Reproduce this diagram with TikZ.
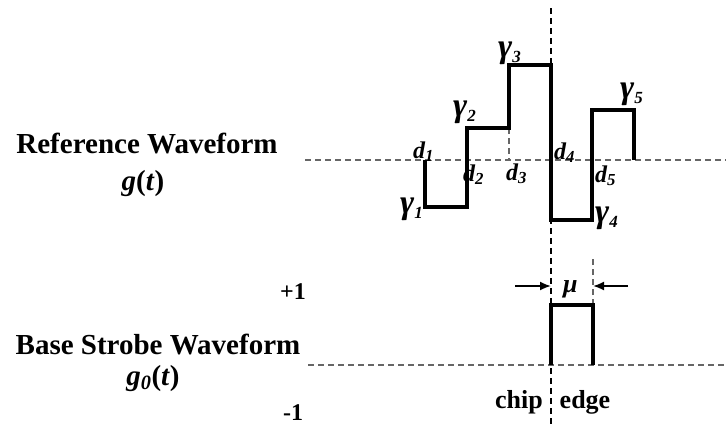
\documentclass[tikz,border=0pt]{standalone}
\usepackage{fontspec}
\setmainfont{Liberation Serif}
\usetikzlibrary{arrows.meta}

\newcommand{\lab}[2]{\textit{#1}\textsubscript{\textit{#2}}}
\newcommand{\glab}[1]{{\fontsize{34}{34}\selectfont γ}\raisebox{-5pt}{\fontsize{17}{17}\selectfont\textit{#1}}}

\begin{document}
\begin{tikzpicture}[
  x=1pt, y=-1pt,
  every node/.style={inner sep=0pt, anchor=base west},
  title/.style={font=\fontsize{29}{32}\selectfont\bfseries, anchor=base},
  level/.style={font=\fontsize{24}{26}\selectfont\bfseries},
  tag/.style={font=\fontsize{24}{26}\selectfont\bfseries\itshape},
  axis/.style={draw=black!60, dash pattern=on 6pt off 4pt, line width=1.4pt},
  edgeline/.style={draw=black, dash pattern=on 6pt off 4pt, line width=1.4pt},
  wave/.style={draw=black, line width=3.4pt, line join=miter},
  width arrow/.style={-{Latex[length=11pt,width=9pt]}, line width=1.8pt}
]
\useasboundingbox (0,0) rectangle (726,426);

% left titles
\node[title] (reftitle) at (147,153) {Reference Waveform};
\node[title] (refsig) at (143,190) {\textit{g}(\textit{t})};
\node[title] (basetitle) at (158,354) {Base Strobe Waveform};
\node[title] (basesig) at (153,385) {\lab{g}{0}(\textit{t})};
\node[level] (plusone) at (280,299) {+1};
\node[level] (minusone) at (283,420) {-1};

% zero lines and chip edge
\draw[axis] (305,160) -- (726,160);
\draw[axis] (308,365) -- (726,365);
\draw[edgeline] (551,8) -- (551,426);

% reference waveform
\draw[axis] (509,128) -- (509,160);
\draw[wave] (425,160) -- (425,207) -- (467,207) -- (467,128) -- (509,128)
  -- (509,65) -- (551,65) -- (551,220) -- (592,220) -- (592,110)
  -- (634,110) -- (634,160);

\node[tag] (dA) at (413,158) {\lab{d}{1}};
\node[tag] (dB) at (463,181) {\lab{d}{2}};
\node[tag] (dC) at (506,180) {\lab{d}{3}};
\node[tag] (dD) at (554,159) {\lab{d}{4}};
\node[tag] (dE) at (595,182) {\lab{d}{5}};
\node[tag] (gA) at (400,213) {\glab{1}};
\node[tag] (gB) at (453,116) {\glab{2}};
\node[tag] (gC) at (498,57) {\glab{3}};
\node[tag] (gD) at (595,222) {\glab{4}};
\node[tag] (gE) at (620,98) {\glab{5}};

% strobe pulse
\draw[axis] (593,305) -- (593,258);
\draw[wave] (551,365) -- (551,305) -- (593,305) -- (593,365);
\coordinate (muL) at (515,286);
\coordinate (muR) at (628,286);
\draw[width arrow] (muL) -- (551,286);
\draw[width arrow] (muR) -- (593,286);
\node[tag, font=\fontsize{26}{28}\selectfont\bfseries\itshape] (mu) at (563,292) {μ};

\node[title, font=\fontsize{26}{28}\selectfont\bfseries] (chip) at (519,408) {chip};
\node[title, font=\fontsize{26}{28}\selectfont\bfseries] (edge) at (585,408) {edge};
\end{tikzpicture}
\end{document}
